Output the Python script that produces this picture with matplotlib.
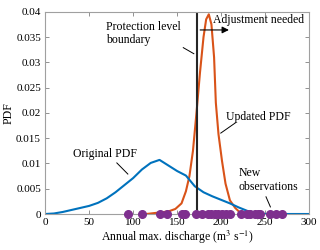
import matplotlib
matplotlib.use("Agg")
import matplotlib.pyplot as plt

plt.rcParams['font.family'] = ['Liberation Serif', 'DejaVu Serif']
plt.rcParams['mathtext.fontset'] = 'stix'

# original PDF (blue)
orig_x = [0, 10, 20, 30, 40, 50, 60, 70, 80, 90, 100, 110, 120, 130, 140, 150,
          160, 170, 180, 190, 200, 210, 220, 230, 240, 250, 300]
orig_y = [0, 0.0001, 0.0004, 0.0008, 0.0012, 0.0016, 0.0022, 0.0031, 0.0043,
          0.0057, 0.0071, 0.0088, 0.0101, 0.0107, 0.0096, 0.0085, 0.0076,
          0.0055, 0.0043, 0.0035, 0.0028, 0.0021, 0.0013, 0.0006, 0.0002, 0, 0]

# updated PDF (orange)
upd_x = [115, 125, 140, 148, 155, 160, 164, 168, 172, 176, 180, 183, 186, 189,
         192, 194, 197, 201, 205, 210, 216, 222, 235]
upd_y = [0, 0.0002, 0.0005, 0.001, 0.0021, 0.0045, 0.0075, 0.0125, 0.020,
         0.028, 0.035, 0.0385, 0.0395, 0.0375, 0.031, 0.022, 0.0158, 0.0105,
         0.006, 0.0027, 0.0012, 0.0002, 0]

# new observations
obs = [94, 110, 131, 138, 155, 159, 172, 178, 185, 189, 193, 197, 201, 206,
       210, 223, 229, 233, 238, 242, 244, 256, 262, 269]

boundary = 173
arrow_end = 212

fig = plt.figure(figsize=(3.2, 2.5), dpi=100)
ax = fig.add_axes([0.141, 0.144, 0.825, 0.809])

ax.plot(upd_x, upd_y, color='#D95319', lw=1.5)
ax.plot(orig_x, orig_y, color='#0072BD', lw=1.5)
ax.plot([boundary, boundary], [0, 0.04], color='#262626', lw=1.5)
ax.plot(obs, [0] * len(obs), 'o', color='#7E2F8E', ms=5.5, clip_on=False, zorder=5)

ax.annotate('', xy=(arrow_end, 0.0364), xytext=(boundary, 0.0364),
            arrowprops=dict(arrowstyle='-|>', color='black', lw=0.8,
                            mutation_scale=10))

fs = 8.5
ax.text(191, 0.0383, 'Adjustment needed', fontsize=fs, va='center')
ax.text(69, 0.0357, 'Protection level\nboundary', fontsize=fs, va='center',
        linespacing=1.1)
ax.plot([157, 169], [0.0329, 0.0317], color='black', lw=0.7)
ax.text(205, 0.0192, 'Updated PDF', fontsize=fs, va='center')
ax.plot([199.6, 216], [0.016, 0.018], color='black', lw=0.7)
ax.text(32, 0.0118, 'Original PDF', fontsize=fs, va='center')
ax.plot([81.5, 94], [0.0101, 0.0079], color='black', lw=0.7)
ax.text(220, 0.0082, 'New', fontsize=fs, va='center')
ax.text(220, 0.0053, 'observations', fontsize=fs, va='center')
ax.plot([251, 256], [0.0034, 0.0014], color='black', lw=0.7)

ax.set_xlim(0, 300)
ax.set_ylim(0, 0.04)
ax.set_xticks([0, 50, 100, 150, 200, 250, 300])
ax.set_yticks([0, 0.005, 0.01, 0.015, 0.02, 0.025, 0.03, 0.035, 0.04])
ax.set_yticklabels(['0', '0.005', '0.01', '0.015', '0.02', '0.025', '0.03',
                    '0.035', '0.04'])
ax.tick_params(direction='in', top=True, right=True, labelsize=8,
               length=3, width=0.6, color='#808080', pad=3)
for s in ax.spines.values():
    s.set_color('#A0A0A0')
    s.set_linewidth(0.8)

ax.set_xlabel('Annual max. discharge (m$^3$ s$^{-1}$)', fontsize=fs, labelpad=1)
ax.set_ylabel('PDF', fontsize=fs, labelpad=1)

fig.savefig('out.png', dpi=100)
